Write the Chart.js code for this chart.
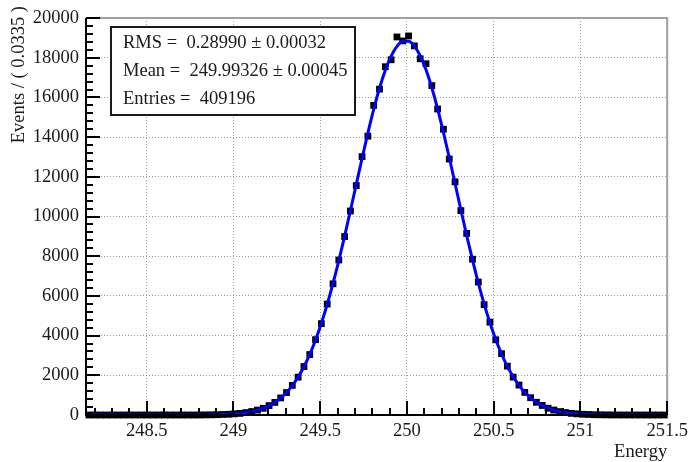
<!DOCTYPE html>
<html>
<head>
<meta charset="utf-8">
<script src="https://cdn.jsdelivr.net/npm/chart.js@4.4.1/dist/chart.umd.min.js"></script>
<style>
  body { margin: 0; background: #fff; }
  canvas { display: block; }
</style>
</head>
<body>
<canvas id="energyChart" width="693" height="462"></canvas>
<script>
// Histogram binning (100 bins of 0.0335 from 248.15 to 251.5)
const xMin = 248.15;
const xMax = 251.5;
const binWidth = 0.0335;

// Events per bin (black squares)
const counts = [
  0, 0, 0, 0, 0, 0, 0, 0, 0, 0,
  0, 0, 0, 0, 0, 0, 0, 0, 0, 0,
  5, 9, 15, 26, 36, 58, 80, 121, 170, 247,
  338, 474, 636, 861, 1132, 1490, 1905, 2441, 3047, 3795,
  4605, 5590, 6610, 7810, 8990, 10280, 11560, 13020, 14050, 15600,
  16420, 17550, 17900, 19050, 18850, 19100, 18600, 17950, 17700, 16600,
  15420, 14400, 12900, 11750, 10300, 9150, 7850, 6700, 5560, 4680,
  3790, 3090, 2460, 1910, 1510, 1140, 872, 640, 480, 342,
  250, 172, 125, 82, 58, 37, 26, 15, 10, 6,
  4, 2, 1, 1, 0, 0, 0, 0, 0, 0
];

// Fitted curve (blue line) at the same bin centres
const fitValues = [
  0, 0, 0, 0, 0, 0, 0, 0, 0, 0,
  0, 0, 0, 0, 0, 0, 0, 1, 2, 4,
  6, 10, 16, 24, 37, 56, 82, 120, 172, 244,
  341, 470, 640, 858, 1136, 1485, 1913, 2433, 3054, 3780,
  4620, 5572, 6629, 7783, 9017, 10305, 11624, 12937, 14208, 15397,
  16464, 17370, 18084, 18577, 18831, 18834, 18589, 18102, 17395, 16493,
  15431, 14246, 12977, 11666, 10345, 9055, 7819, 6663, 5601, 4648,
  3805, 3073, 2450, 1926, 1496, 1145, 866, 645, 475, 345,
  247, 175, 122, 84, 57, 38, 25, 16, 10, 6,
  4, 2, 1, 1, 0, 0, 0, 0, 0, 0
];

// Axis ticks
const xTickValues = [248.5, 249, 249.5, 250, 250.5, 251, 251.5];
const yTickValues = [0, 2000, 4000, 6000, 8000, 10000, 12000, 14000, 16000, 18000, 20000];

// Stats box lines
const statsLines = [
  "RMS =  0.28990 \u00b1 0.00032",
  "Mean =  249.99326 \u00b1 0.00045",
  "Entries =  409196"
];

const serif = "'Liberation Serif', 'DejaVu Serif', serif";
const textColor = "#1a1a1a";
const fontSize = 18.5;

// Build {x, y} points from bin centres
const binCenter = i => xMin + binWidth * (i + 0.5);
const dataPoints = counts.map((c, i) => ({ x: binCenter(i), y: c }));
const fitPoints = fitValues.map((v, i) => ({ x: binCenter(i), y: v }));

/**********************************************************/
/*   ROOT-style frame: inner ticks, axis lines, stats box  */
/**********************************************************/
const rootFrame = {
  id: "rootFrame",
  afterDatasetsDraw(chart) {
    const ctx = chart.ctx;
    const a = chart.chartArea;
    const xs = chart.scales.x;
    const ys = chart.scales.y;
    ctx.save();

    // Gray frame on top and right
    ctx.strokeStyle = "#a0a0a0";
    ctx.lineWidth = 2;
    ctx.beginPath();
    ctx.moveTo(a.left, a.top);
    ctx.lineTo(a.right, a.top);
    ctx.lineTo(a.right, a.bottom);
    ctx.stroke();

    // Ticks pointing into the plot
    ctx.strokeStyle = "#000";
    ctx.lineWidth = 2;
    ctx.beginPath();
    for (let v = 248.2; v < xMax + 0.001; v += 0.1) {
      const px = Math.round(xs.getPixelForValue(v));
      const major = Math.abs(v * 2 - Math.round(v * 2)) < 0.001;
      ctx.moveTo(px, a.bottom);
      ctx.lineTo(px, a.bottom - (major ? 14 : 7));
    }
    for (let v = 0; v <= 20000; v += 400) {
      const py = Math.round(ys.getPixelForValue(v));
      const major = v % 2000 === 0;
      ctx.moveTo(a.left, py);
      ctx.lineTo(a.left + (major ? 14 : 7), py);
    }
    ctx.stroke();

    // Axis lines
    ctx.lineWidth = 2;
    ctx.beginPath();
    ctx.moveTo(a.left, a.top);
    ctx.lineTo(a.left, a.bottom);
    ctx.lineTo(a.right, a.bottom);
    ctx.stroke();

    // Axis titles
    ctx.fillStyle = textColor;
    ctx.font = fontSize + "px " + serif;
    ctx.textAlign = "right";
    ctx.textBaseline = "middle";
    ctx.fillText("Energy", a.right, 452);
    ctx.translate(19, 6);
    ctx.rotate(-Math.PI / 2);
    ctx.fillText("Events / ( 0.0335 )", 0, 0);
    ctx.setTransform(1, 0, 0, 1, 0, 0);

    // Stats box
    ctx.fillStyle = "#fff";
    ctx.fillRect(111, 27, 244, 88);
    ctx.strokeStyle = "#1a1a1a";
    ctx.lineWidth = 2;
    ctx.strokeRect(111, 27, 244, 88);
    ctx.fillStyle = textColor;
    ctx.textAlign = "left";
    statsLines.forEach((line, i) => {
      ctx.fillText(line, 123, 43 + i * 28);
    });

    ctx.restore();
  }
};

// Draw chart
var chart = new Chart(document.getElementById("energyChart"), {
  type: "scatter",
  data: {
    datasets: [
      {
        label: "Fit",
        type: "line",
        data: fitPoints,
        borderColor: "#0000ff",
        borderWidth: 3,
        pointRadius: 0,
        fill: false,
        cubicInterpolationMode: "monotone",
        order: 0
      },
      {
        label: "Data",
        data: dataPoints,
        pointStyle: "rect",
        pointRadius: 4.8,
        backgroundColor: "#000",
        borderWidth: 0,
        clip: false,
        order: 1
      }
    ]
  },
  options: {
    responsive: false,
    animation: false,
    events: [],
    layout: { padding: { top: 15, right: 21, left: 0, bottom: 0 } },
    plugins: {
      legend: { display: false },
      tooltip: { enabled: false }
    },
    scales: {
      x: {
        type: "linear",
        min: xMin,
        max: xMax,
        afterBuildTicks: scale => { scale.ticks = xTickValues.map(v => ({ value: v })); },
        afterFit: scale => { scale.height = 47; },
        ticks: {
          callback: v => String(v),
          autoSkip: false,
          maxRotation: 0,
          padding: 5,
          color: textColor,
          font: { family: serif, size: fontSize }
        },
        grid: {
          drawTicks: false,
          lineWidth: 1,
          color: ctx => (ctx.tick && ctx.tick.value === xMax) ? "rgba(0,0,0,0)" : "#9a9a9a"
        },
        border: { display: false, dash: [1, 2] }
      },
      y: {
        min: 0,
        max: 20000,
        afterBuildTicks: scale => { scale.ticks = yTickValues.map(v => ({ value: v })); },
        afterFit: scale => { scale.width = 86; },
        ticks: {
          callback: v => String(v),
          autoSkip: false,
          padding: 7,
          color: textColor,
          font: { family: serif, size: fontSize }
        },
        grid: {
          drawTicks: false,
          lineWidth: 1,
          color: ctx => (ctx.tick && (ctx.tick.value === 0 || ctx.tick.value === 20000)) ? "rgba(0,0,0,0)" : "#9a9a9a"
        },
        border: { display: false, dash: [1, 2] }
      }
    }
  },
  plugins: [rootFrame]
});
</script>
</body>
</html>
